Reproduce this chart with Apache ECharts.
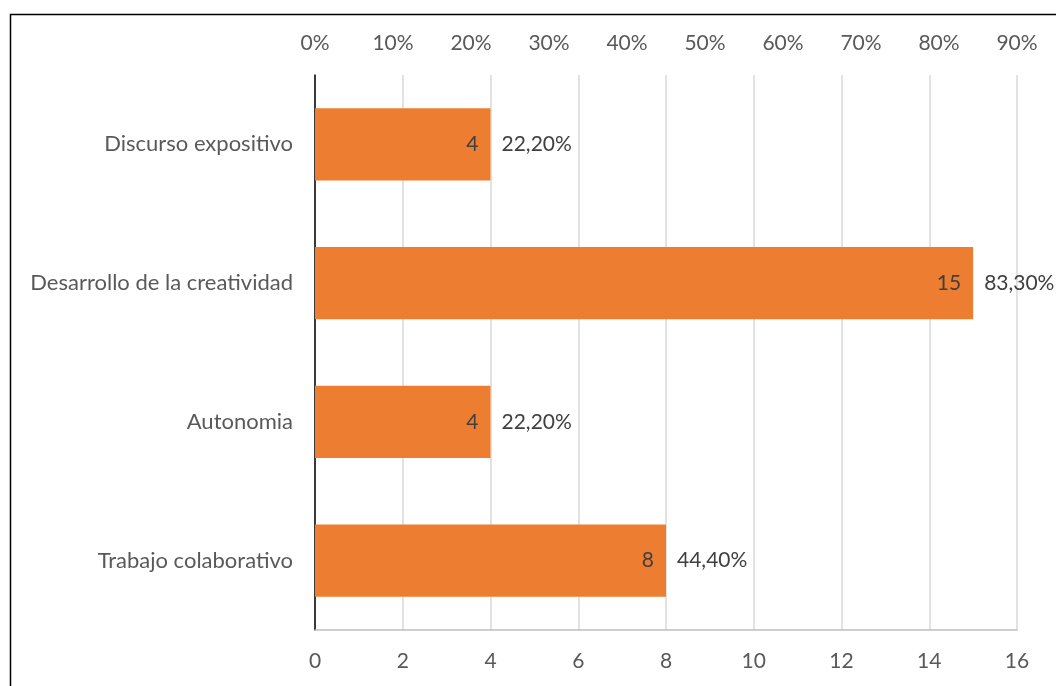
<!DOCTYPE html>
<html>
<head>
<meta charset="utf-8">
<script src="https://cdn.jsdelivr.net/npm/echarts@6/dist/echarts.min.js"></script>
<style>
html,body{margin:0;padding:0;background:#fff;}
#chart{width:1056px;height:686px;}
</style>
</head>
<body>
<div id="chart"></div>
<script>
const categories = ["Discurso expositivo", "Desarrollo de la creatividad", "Autonomia", "Trabajo colaborativo"];
const counts = [4, 15, 4, 8];
const percentLabels = ["22,20%", "83,30%", "22,20%", "44,40%"];
const bottomTicks = [0, 2, 4, 6, 8, 10, 12, 14, 16];
const topTicksPct = [0, 10, 20, 30, 40, 50, 60, 70, 80, 90];

const FONT = "Lato";
const chart = echarts.init(document.getElementById('chart'));
chart.setOption({
  animation: false,
  backgroundColor: '#fff',
  textStyle: { fontFamily: FONT },
  graphic: [{
    type: 'rect', left: 8, top: 12, shape: { width: 1070, height: 700 },
    style: { fill: 'none', stroke: '#000', lineWidth: 1.5 }, silent: true
  }],
  grid: { left: 315, right: 39, top: 75, bottom: 56, containLabel: false },
  xAxis: [{
    type: 'value', position: 'bottom',
    min: bottomTicks[0], max: bottomTicks[bottomTicks.length - 1], interval: 2,
    axisLine: { show: true, lineStyle: { color: '#bfbfbf', width: 1.5 } },
    axisTick: { show: false },
    splitLine: { show: true, lineStyle: { color: '#d9d9d9', width: 1.5 } },
    axisLabel: { color: '#595959', fontSize: 21, margin: 21, fontFamily: FONT }
  }, {
    type: 'value', position: 'top',
    min: topTicksPct[0] / 100, max: topTicksPct[topTicksPct.length - 1] / 100, interval: 0.1,
    axisLine: { show: false }, axisTick: { show: false }, splitLine: { show: false },
    axisLabel: { color: '#595959', fontSize: 21, margin: 21, fontFamily: FONT,
      formatter: v => Math.round(v * 100) + '%' }
  }],
  yAxis: {
    type: 'category', data: categories, inverse: true,
    axisLine: { show: true, lineStyle: { color: '#000', width: 1.5 } },
    axisTick: { show: false },
    axisLabel: { color: '#595959', fontSize: 22, margin: 22, fontFamily: FONT }
  },
  series: [{
    type: 'bar', data: counts, xAxisIndex: 0, barWidth: '52%',
    itemStyle: { color: '#ED7D31' },
    label: { show: true, position: 'insideRight', distance: 12, color: '#404040', fontSize: 21, fontFamily: FONT }
  }, {
    type: 'bar', data: counts, xAxisIndex: 0, barWidth: '52%', barGap: '-100%',
    itemStyle: { color: 'rgba(0,0,0,0)' }, silent: true,
    label: { show: true, position: 'right', distance: 11, color: '#404040', fontSize: 21, fontFamily: FONT,
      formatter: p => percentLabels[p.dataIndex] }
  }]
});
</script>
</body>
</html>
